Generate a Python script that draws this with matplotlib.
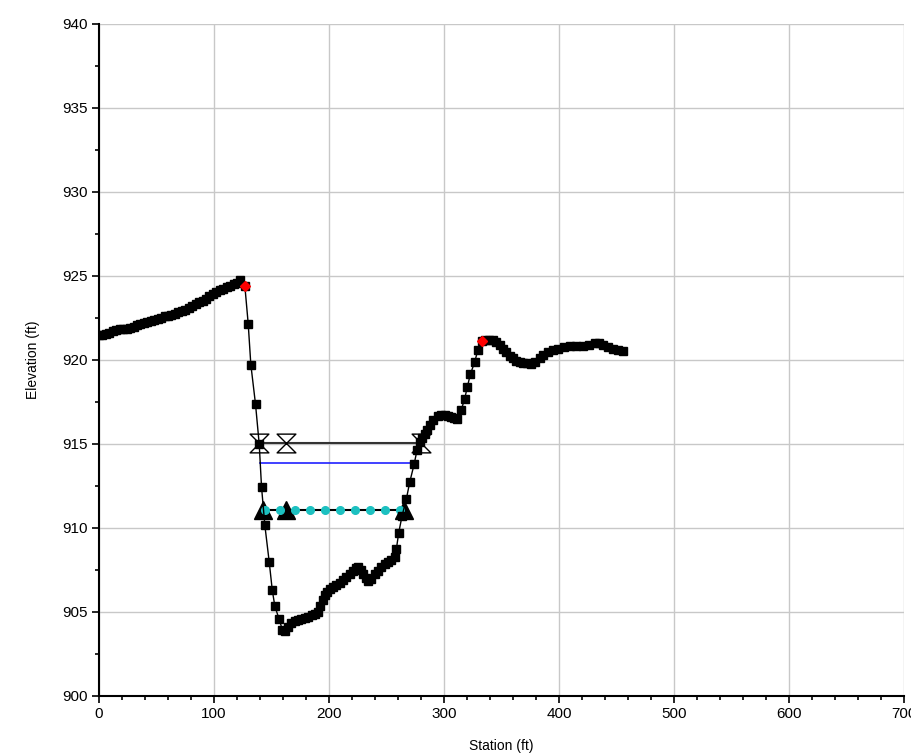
import numpy as np
import matplotlib
matplotlib.use("Agg")
import matplotlib.pyplot as plt
from matplotlib.path import Path
from matplotlib.ticker import MultipleLocator

plt.rcParams['font.family'] = ['Liberation Sans', 'DejaVu Sans']

# ground profile (station, elevation)
ground_x = [0, 3, 6, 9, 12, 15, 18, 21, 24, 27, 30, 33, 36, 39, 42, 45, 48, 51, 54, 57,
            60, 63, 66, 69, 72, 75, 78, 81, 84, 87, 90, 93, 96, 99, 102, 105, 108, 111,
            114, 117, 120, 123, 126.8, 129.7, 132, 136.1, 139.3, 141.3, 144.2, 148, 150.6,
            152.9, 156.7, 159.5, 162, 164.5, 167, 170, 173, 176, 179, 182, 185, 188, 190.5,
            192.5, 194.5, 196.5, 198.5, 200.7, 203.5, 206.5, 209.5, 212.3, 215, 218, 221,
            223.5, 225.5, 227.5, 229.6, 231.8, 234, 236.5, 239.8, 242.5, 245.6, 248.5,
            251.4, 254.3, 257.2, 258.6, 260.6, 263.5, 267.3, 270.2, 274, 276.5, 278.9, 281,
            283.2, 285.5, 287.6, 290.5, 294.8, 297.5, 300.6, 303.5, 306.4, 309, 311.3,
            315.1, 318, 320.3, 322.9, 326.7, 329.5, 333, 336, 339, 342.6, 345.5, 348.5,
            351.3, 354, 357, 360, 363, 366, 368.6, 372, 375.9, 379.5, 383.1, 386.5, 390.4,
            394.5, 399, 404, 409.2, 415, 420.8, 426, 430.9, 434.5, 438.2, 442.5, 446.8,
            451, 455.5]
ground_y = [921.47, 921.48, 921.52, 921.6, 921.7, 921.78, 921.82, 921.85, 921.86, 921.9,
            921.97, 922.05, 922.13, 922.2, 922.27, 922.33, 922.38, 922.45, 922.52, 922.58,
            922.62, 922.67, 922.75, 922.82, 922.88, 922.96, 923.08, 923.2, 923.32, 923.43,
            923.53, 923.65, 923.78, 923.9, 924.02, 924.14, 924.24, 924.33, 924.42, 924.5,
            924.57, 924.75, 924.4, 922.16, 919.72, 917.34, 914.97, 912.43, 910.14, 907.96,
            906.31, 905.32, 904.54, 903.9, 903.85, 904.1, 904.3, 904.45, 904.5, 904.55,
            904.6, 904.7, 904.78, 904.85, 905.0, 905.35, 905.7, 905.97, 906.2, 906.37,
            906.48, 906.57, 906.72, 906.87, 907.05, 907.26, 907.45, 907.6, 907.66, 907.5,
            907.26, 907.0, 906.83, 906.95, 907.26, 907.45, 907.66, 907.82, 907.96, 908.1,
            908.26, 908.75, 909.7, 910.7, 911.73, 912.72, 913.78, 914.61, 915.11, 915.35,
            915.61, 915.85, 916.1, 916.4, 916.64, 916.72, 916.74, 916.68, 916.6, 916.55,
            916.5, 917.04, 917.69, 918.39, 919.14, 919.87, 920.61, 921.13, 921.16, 921.2,
            921.17, 921.05, 920.88, 920.67, 920.45, 920.25, 920.08, 919.95, 919.88, 919.84,
            919.8, 919.78, 919.88, 920.08, 920.3, 920.47, 920.58, 920.67, 920.76, 920.83,
            920.84, 920.83, 920.88, 921.03, 921.0, 920.87, 920.77, 920.67, 920.58, 920.51]

# bank stations
bank_x = [126.8, 333]
bank_y = [924.4, 921.13]

# water surfaces
ws_x = [139.3, 279.7]
ws_y = 915.05
ws_marks = [139.3, 162.5, 279.7]
blue_x = [140.2, 272.5]
blue_y = 913.86

# ineffective / lid line
ineff_x = [142.5, 265.5]
ineff_y = 911.04
tri_x = [142.5, 162.5, 265.5]
dots_x = [144.2, 157.3, 170.3, 183.4, 196.4, 209.4, 222.4, 235.5, 248.5, 261.5]

hourglass = Path([(-1, 1), (1, 1), (-1, -1), (1, -1), (-1, 1)],
                 [Path.MOVETO, Path.LINETO, Path.LINETO, Path.LINETO, Path.CLOSEPOLY])

fig = plt.figure(figsize=(9.12, 7.56), dpi=100)
ax = fig.add_axes([0.1086, 0.0798, 0.8826, 0.8885])

ax.plot(ws_x, [ws_y, ws_y], color='#333333', lw=1.5, zorder=3)
ax.plot(ws_marks, [ws_y] * len(ws_marks), ls='none', marker=hourglass, ms=13.5,
        mfc='white', mec='black', mew=1, zorder=4)
ax.plot(blue_x, [blue_y, blue_y], color='#2020ff', lw=1.2, zorder=3)
ax.plot(ineff_x, [ineff_y, ineff_y], color='black', lw=1.5, zorder=3)
ax.plot(tri_x, [ineff_y] * len(tri_x), ls='none', marker='^', ms=12.5,
        color='black', zorder=4)
ax.plot(dots_x, [ineff_y] * len(dots_x), ls='none', marker='o', ms=5.5,
        color='#1cc0c0', zorder=5)

ax.plot(ground_x, ground_y, color='black', lw=1, marker='s', ms=5.5, zorder=6)
ax.plot(bank_x, bank_y, ls='none', marker='D', ms=5, color='red', zorder=7)

ax.set_xlim(0, 700)
ax.set_ylim(900, 940)
ax.xaxis.set_major_locator(MultipleLocator(100))
ax.xaxis.set_minor_locator(MultipleLocator(20))
ax.yaxis.set_major_locator(MultipleLocator(5))
ax.yaxis.set_minor_locator(MultipleLocator(2.5))
ax.grid(True, which='major', color='#c8c8c8', lw=1)
ax.set_axisbelow(True)

for s in ['top', 'right']:
    ax.spines[s].set_visible(False)
for s in ['left', 'bottom']:
    ax.spines[s].set_linewidth(1.5)

ax.tick_params(which='major', length=5, width=1.2, labelsize=11, pad=3)
ax.tick_params(which='minor', length=3, width=1.2)

ax.set_xlabel('Station (ft)', fontsize=10, labelpad=13)
ax.set_ylabel('Elevation (ft)', fontsize=10, labelpad=16)

fig.savefig('out.png', dpi=100)
